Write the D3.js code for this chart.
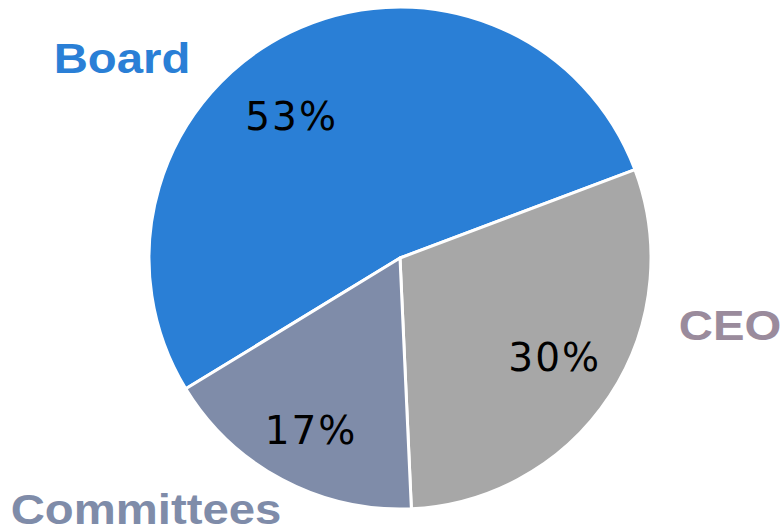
<!DOCTYPE html>
<html>
<head>
<meta charset="utf-8">
<script src="https://cdn.jsdelivr.net/npm/d3@7"></script>
<style>
  html, body { margin: 0; padding: 0; background: #fff; }
  svg { display: block; }
</style>
</head>
<body>
<svg id="chart" width="782" height="529"></svg>
<script>
// Share of decisions by body
const categories = ["Board", "CEO", "Committees"];
const values = [53, 30, 17];
const sliceColors = ["#2a7fd6", "#a7a7a7", "#7f8ca9"];
const nameColors = ["#2a7fd6", "#9a8b9c", "#7f8ca9"];

const width = 782, height = 529;
const cx = 400, cy = 258, radius = 251;

const svg = d3.select("#chart");
const g = svg.append("g").attr("transform", `translate(${cx},${cy})`);

const startDeg = -121.4;
const pie = d3.pie()
  .sort(null)
  .value(d => d)
  .startAngle(startDeg * Math.PI / 180)
  .endAngle((startDeg + 360) * Math.PI / 180);

const arcs = pie(values);
const arc = d3.arc().innerRadius(0).outerRadius(radius);

g.selectAll("path.slice")
  .data(arcs)
  .join("path")
  .attr("class", "slice")
  .attr("d", arc)
  .attr("fill", (d, i) => sliceColors[i])
  .attr("stroke", "#fff")
  .attr("stroke-width", 3)
  .attr("stroke-linejoin", "round");

// Percentage labels: radius and angle tweak per slice
const pctPlacement = [
  { r: 178, shift: -11.5 },
  { r: 184, shift: -0.6 },
  { r: 194, shift: -0.7 }
];
g.selectAll("text.pct")
  .data(arcs)
  .join("text")
  .attr("class", "pct")
  .each(function (d, i) {
    const p = pctPlacement[i];
    const a = (d.startAngle + d.endAngle) / 2 + p.shift * Math.PI / 180;
    d3.select(this)
      .attr("x", p.r * Math.sin(a))
      .attr("y", -p.r * Math.cos(a));
  })
  .attr("text-anchor", "middle")
  .attr("dominant-baseline", "central")
  .attr("font-family", "'DejaVu Sans', sans-serif")
  .attr("font-size", 39)
  .attr("letter-spacing", 2)
  .attr("fill", "#000")
  .text(d => d.data + "%");

// Category names placed around the pie (slightly widened bold type)
const namePlacement = [
  { x: 122, y: 73 },
  { x: 730, y: 340 },
  { x: 146, y: 524 }
];
svg.selectAll("text.name")
  .data(categories)
  .join("text")
  .attr("class", "name")
  .attr("transform", (d, i) => `translate(${namePlacement[i].x},${namePlacement[i].y}) scale(1.1,1)`)
  .attr("text-anchor", "middle")
  .attr("font-family", "'Liberation Sans', Arial, sans-serif")
  .attr("font-weight", "bold")
  .attr("font-size", 43)
  .attr("fill", (d, i) => nameColors[i])
  .text(d => d);
</script>
</body>
</html>
